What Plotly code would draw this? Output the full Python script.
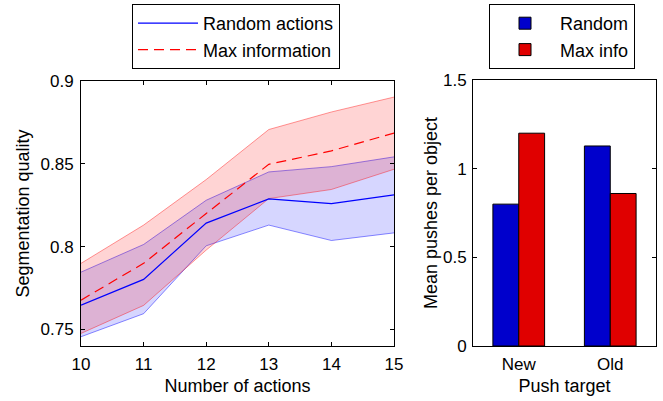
import plotly.graph_objects as go

# ---- data: left panel ----
actions = [10, 11, 12, 13, 14, 15]
random_mean = [0.7647, 0.7802, 0.8142, 0.8288, 0.8260, 0.8312]
random_upper = [0.7846, 0.8013, 0.8280, 0.8451, 0.8483, 0.8542]
random_lower = [0.7456, 0.7595, 0.8005, 0.8130, 0.8037, 0.8083]
maxinfo_mean = [0.7677, 0.7899, 0.8200, 0.8497, 0.8578, 0.8686]
maxinfo_upper = [0.7899, 0.8130, 0.8405, 0.8707, 0.8813, 0.8903]
maxinfo_lower = [0.7476, 0.7645, 0.7979, 0.8290, 0.8345, 0.8467]
left_yticks = [0.75, 0.8, 0.85, 0.9]
left_yticktext = ["0.75", "0.8", "0.85", "0.9"]

# ---- data: right panel ----
targets = ["New", "Old"]
pushes_random = [0.80, 1.128]
pushes_maxinfo = [1.20, 0.86]
right_yticks = [0, 0.5, 1, 1.5]
right_yticktext = ["0", "0.5", "1", "1.5"]

FONT = "Liberation Sans, Arial, Helvetica, sans-serif"
W, H = 663, 401

fig = go.Figure()

# bands (lower then upper filled to it)
fig.add_trace(go.Scatter(x=actions, y=random_lower, mode="lines",
                         line=dict(color="rgba(0,0,255,0.45)", width=1),
                         showlegend=False, hoverinfo="skip", xaxis="x", yaxis="y"))
fig.add_trace(go.Scatter(x=actions, y=random_upper, mode="lines", fill="tonexty",
                         fillcolor="rgba(0,0,255,0.16)",
                         line=dict(color="rgba(0,0,255,0.45)", width=1),
                         showlegend=False, hoverinfo="skip", xaxis="x", yaxis="y"))
fig.add_trace(go.Scatter(x=actions, y=maxinfo_lower, mode="lines",
                         line=dict(color="rgba(255,0,0,0.4)", width=1),
                         showlegend=False, hoverinfo="skip", xaxis="x", yaxis="y"))
fig.add_trace(go.Scatter(x=actions, y=maxinfo_upper, mode="lines", fill="tonexty",
                         fillcolor="rgba(255,0,0,0.17)",
                         line=dict(color="rgba(255,0,0,0.4)", width=1),
                         showlegend=False, hoverinfo="skip", xaxis="x", yaxis="y"))
# means
fig.add_trace(go.Scatter(x=actions, y=random_mean, mode="lines", name="Random actions",
                         line=dict(color="#0000FF", width=1.2),
                         legend="legend", xaxis="x", yaxis="y"))
fig.add_trace(go.Scatter(x=actions, y=maxinfo_mean, mode="lines", name="Max information",
                         line=dict(color="#FF0000", width=1.2, dash="10px,6px"),
                         legend="legend", xaxis="x", yaxis="y"))

# bars
fig.add_trace(go.Bar(x=targets, y=pushes_random, name="Random",
                     marker=dict(color="#0000CC", line=dict(color="black", width=1)),
                     legend="legend2", xaxis="x2", yaxis="y2"))
fig.add_trace(go.Bar(x=targets, y=pushes_maxinfo, name="Max info",
                     marker=dict(color="#E00000", line=dict(color="black", width=1)),
                     legend="legend2", xaxis="x2", yaxis="y2"))

axis_common = dict(showline=True, linecolor="black", linewidth=1, mirror="ticks",
                   ticks="inside", ticklen=4, tickcolor="black", showgrid=False,
                   zeroline=False, automargin=False,
                   tickfont=dict(family=FONT, size=17, color="black"))

fig.update_layout(
    width=W, height=H,
    margin=dict(l=0, r=0, t=0, b=0),
    template="none",
    plot_bgcolor="white", paper_bgcolor="white",
    font=dict(family=FONT, size=18, color="black"),
    barmode="group", bargap=0.435, bargroupgap=0,
    xaxis=dict(domain=[81 / W, 394 / W], range=[10, 15],
               tickvals=actions, ticktext=[str(a) for a in actions],
               title=dict(text="Number of actions", standoff=5,
                          font=dict(family=FONT, size=18)),
               ticklabelstandoff=3, anchor="y", **axis_common),
    yaxis=dict(domain=[1 - 346 / H, 1 - 81 / H], range=[0.74, 0.9],
               tickvals=left_yticks, ticktext=left_yticktext,
               title=dict(text="Segmentation quality", standoff=6,
                          font=dict(family=FONT, size=18)),
               ticklabelstandoff=3, anchor="x", **axis_common),
    xaxis2=dict(domain=[473 / W, 656 / W], range=[-0.5, 1.5], type="category",
                title=dict(text="Push target", standoff=5,
                           font=dict(family=FONT, size=18)),
                anchor="y2", showline=True, linecolor="black", linewidth=1, mirror=True,
                ticks="", showgrid=False, zeroline=False, automargin=False,
                ticklabelstandoff=3,
                tickfont=dict(family=FONT, size=17, color="black")),
    yaxis2=dict(domain=[1 - 346 / H, 1 - 80 / H], range=[0, 1.5],
                tickvals=right_yticks, ticktext=right_yticktext,
                title=dict(text="Mean pushes per object", standoff=0,
                           font=dict(family=FONT, size=18)),
                ticklabelstandoff=2, anchor="x2", **axis_common),
    legend=dict(x=132 / W, y=1 - 4 / H, xanchor="left", yanchor="top",
                bgcolor="white", bordercolor="black", borderwidth=1,
                font=dict(family=FONT, size=18, color="black"), itemwidth=60,
                tracegroupgap=0, traceorder="normal"),
    legend2=dict(x=489 / W, y=1 - 4 / H, xanchor="left", yanchor="top",
                 bgcolor="white", bordercolor="black", borderwidth=1,
                 font=dict(family=FONT, size=18, color="black"), itemwidth=60,
                 tracegroupgap=0, traceorder="normal"),
)

fig.write_html("out.html",
               config={"displayModeBar": False},
               post_script="document.body.style.margin='0';document.body.style.overflow='hidden';")
